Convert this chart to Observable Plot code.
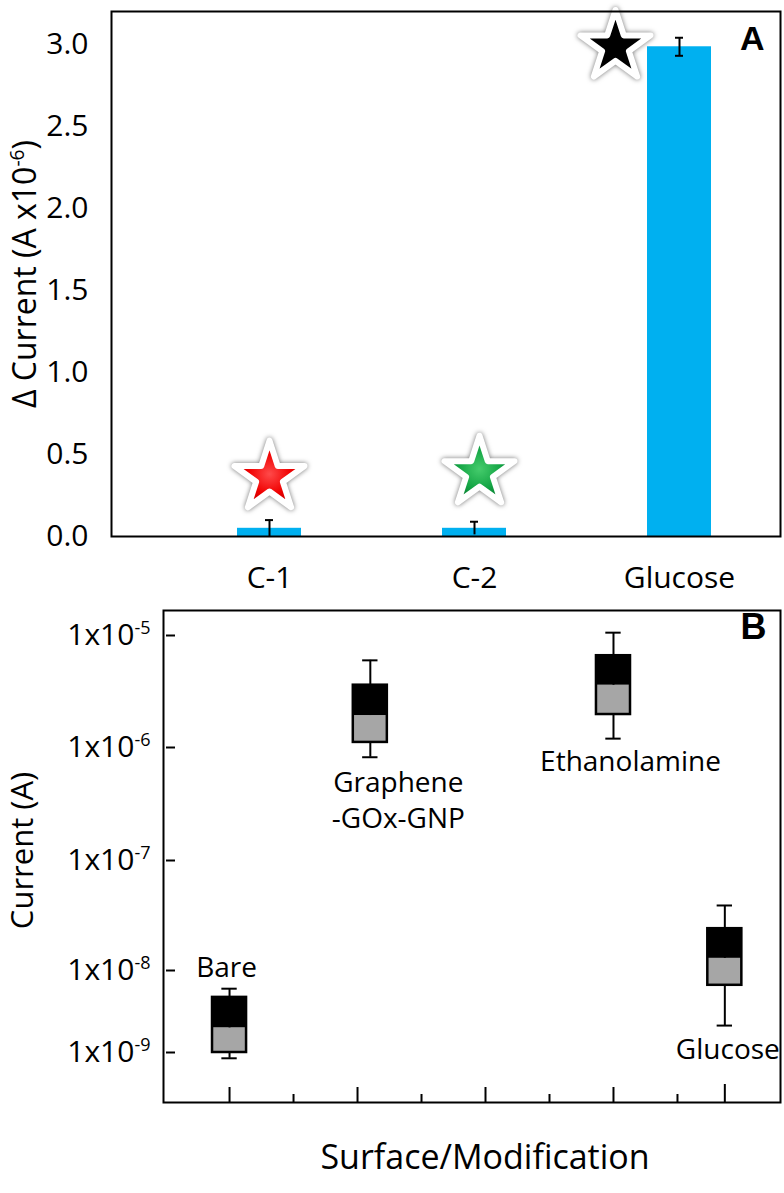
<!DOCTYPE html>
<html><head><meta charset="utf-8">
<script src="https://cdn.jsdelivr.net/npm/d3@7"></script>
<script src="https://cdn.jsdelivr.net/npm/@observablehq/plot@0.6"></script>
<style>
body{margin:0;background:#fff;}
#wrap{position:relative;width:784px;height:1193px;font-family:"Open Sans",sans-serif;}
#a,#b{position:absolute;left:0;}
#a{top:0}
#b{top:560px}
#a g[aria-label="dot"] path{filter:drop-shadow(0 0 2.5px rgba(0,0,0,0.55));}
</style></head><body><div id="wrap"><div id="a"></div><div id="b"></div></div>
<script>
// ---------- Panel A data ----------
const categoriesA = ["C-1", "C-2", "Glucose"];
const deltaCurrent = [0.05, 0.05, 2.985];
const deltaError = [0.05, 0.04, 0.055];
const starValue = [0.36, 0.39, 2.985];
const starColor = ["red", "green", "black"];
const yTicksA = [0, 0.5, 1, 1.5, 2, 2.5, 3];

// ---------- Panel B data ----------
const surfaces = ["Bare", "Graphene\n-GOx-GNP", "Ethanolamine", "Glucose"];
const surfacePos = [1, 2.1, 4, 4.87];
const whiskerHigh = [6.0e-9, 6.0e-6, 1.06e-5, 3.9e-8];
const boxHigh = [4.7e-9, 3.6e-6, 6.6e-6, 2.4e-8];
const boxMid = [2.0e-9, 1.93e-6, 3.6e-6, 1.29e-8];
const boxLow = [1.0e-9, 1.11e-6, 1.97e-6, 6.6e-9];
const whiskerLow = [8.5e-10, 8.2e-7, 1.2e-6, 2.13e-9];
const yTicksB = [1e-9, 1e-8, 1e-7, 1e-6, 1e-5];
const yTickLabelsB = ["1x10-9", "1x10-8", "1x10-7", "1x10-6", "1x10-5"];
const xMajorTicksB = [1, 2, 3, 4];
const xMinorTicksB = [1.5, 2.5, 3.5, 4.5];
const xExtraTicksB = [4.87];

const fontFam = '"Open Sans", sans-serif';

// ---------- Panel A ----------
const dataA = categoriesA.map((c, i) => ({cat: c, v: deltaCurrent[i], e: deltaError[i], s: starValue[i], color: starColor[i]}));
const starDx = {"C-1": 0, "C-2": 5, "Glucose": -64};

const plotA = Plot.plot({
  width: 784, height: 590,
  marginLeft: 111, marginRight: 4, marginTop: 11, marginBottom: 54,
  style: {fontFamily: fontFam, fontSize: "30px", color: "#000", background: "transparent", overflow: "visible"},
  x: {type: "band", domain: categoriesA, paddingInner: 0.69, paddingOuter: 0.475, align: 0.643, label: null, tickSize: 0, tickPadding: 30},
  y: {domain: [0, 3.2], ticks: yTicksA, tickFormat: d3.format(".1f"), tickSize: 0, tickPadding: 23, label: null},
  marks: [
    Plot.barY(dataA, {x: "cat", y: "v", fill: "#00b0f0"}),
    Plot.ruleX(dataA, {x: "cat", y1: d => Math.max(0, d.v - d.e), y2: d => d.v + d.e, stroke: "#000", strokeWidth: 2}),
    Plot.tickY(dataA, {x: "cat", y: d => d.v + d.e, stroke: "#000", strokeWidth: 2, insetLeft: 28, insetRight: 28}),
    Plot.tickY(dataA.filter(d => d.v - d.e > 0.02), {x: "cat", y: d => d.v - d.e, stroke: "#000", strokeWidth: 2, insetLeft: 28, insetRight: 28}),
    ...dataA.map(d => Plot.dot([d], {x: "cat", y: "s", dx: starDx[d.cat], symbol: "star", r: 22,
      fill: `url(#star-${d.color})`, stroke: "#fff", strokeWidth: 6, strokeLinejoin: "round"})),
    Plot.frame({stroke: "#000", strokeWidth: 2}),
    Plot.text(["Δ Current (A x10-6)"], {frameAnchor: "left", dx: -86, textAnchor: "middle", rotate: -90, fontSize: 32, fill: "#000"}),
    Plot.text(["A"], {frameAnchor: "top-right", dx: -16, dy: 14, lineAnchor: "top", textAnchor: "end", fontSize: 34, fontWeight: "bold", fontFamily: '"Liberation Sans", Arial, sans-serif', fill: "#000"})
  ]
});
document.getElementById("a").appendChild(plotA);

// gradients for stars
const defs = d3.select(plotA).insert("defs", ":first-child");
const grads = {red: ["#ff4a4a", "#f00000", "#b00000"], green: ["#45cc6c", "#13a444", "#066a28"], black: ["#000", "#000", "#000"]};
for (const [name, c] of Object.entries(grads)) {
  const g = defs.append("radialGradient").attr("id", `star-${name}`).attr("cx", "50%").attr("cy", "50%").attr("r", "55%");
  g.append("stop").attr("offset", "0%").attr("stop-color", c[0]);
  g.append("stop").attr("offset", "55%").attr("stop-color", c[1]);
  g.append("stop").attr("offset", "100%").attr("stop-color", c[2]);
}

// ---------- Panel B ----------
const dataB = surfaces.map((s, i) => ({s, x: surfacePos[i], wh: whiskerHigh[i], q3: boxHigh[i], med: boxMid[i], q1: boxLow[i], wl: whiskerLow[i]}));
const plotHB = 492, plotWB = 617;
const boxHalf = 0.133, capHalf = 0.06;
const labelB = (name, anchor, dx, dy) => Plot.text(dataB.filter(d => d.s === name), {
  x: "x", y: anchor === "above" ? "wh" : "wl", text: "s", dx, dy,
  lineAnchor: anchor === "above" ? "bottom" : "top", lineHeight: 1.29, fontSize: 28, fill: "#000"});

const plotB = Plot.plot({
  width: 784, height: 633,
  marginLeft: 163, marginRight: 4, marginTop: 50, marginBottom: 91,
  style: {fontFamily: fontFam, fontSize: "30px", color: "#000", background: "transparent", overflow: "visible"},
  x: {domain: [0.484, 5.305], axis: null},
  y: {type: "log", domain: yTicksB, range: [492, 410, 300, 187, 75], axis: null},
  marks: [
    Plot.ruleX(dataB, {x: "x", y1: "wl", y2: "wh", stroke: "#000", strokeWidth: 2}),
    Plot.ruleY(dataB, {y: "wh", x1: d => d.x - capHalf, x2: d => d.x + capHalf, stroke: "#000", strokeWidth: 2}),
    Plot.ruleY(dataB, {y: "wl", x1: d => d.x - capHalf, x2: d => d.x + capHalf, stroke: "#000", strokeWidth: 2}),
    Plot.rect(dataB, {x1: d => d.x - boxHalf, x2: d => d.x + boxHalf, y1: "q1", y2: "med", fill: "#a6a6a6"}),
    Plot.rect(dataB, {x1: d => d.x - boxHalf, x2: d => d.x + boxHalf, y1: "med", y2: "q3", fill: "#000"}),
    Plot.rect(dataB, {x1: d => d.x - boxHalf, x2: d => d.x + boxHalf, y1: "q1", y2: "q3", fill: "none", stroke: "#000", strokeWidth: 2.5}),
    Plot.ruleX(xMajorTicksB, {x: d => d, insetTop: plotHB - 15, stroke: "#000", strokeWidth: 2}),
    Plot.ruleX(xMinorTicksB, {x: d => d, insetTop: plotHB - 8, stroke: "#000", strokeWidth: 2}),
    Plot.ruleX(xExtraTicksB, {x: d => d, insetTop: plotHB - 18, stroke: "#000", strokeWidth: 2}),
    Plot.ruleY(yTicksB, {y: d => d, insetLeft: 3, insetRight: plotWB - 12, stroke: "#000", strokeWidth: 2}),
    Plot.text(yTicksB, {y: d => d, text: (d, i) => yTickLabelsB[i], frameAnchor: "left", dx: -13, textAnchor: "end", fontSize: 30, fill: "#000"}),
    Plot.frame({stroke: "#000", strokeWidth: 2}),
    labelB("Bare", "above", -3, -12),
    labelB("Graphene\n-GOx-GNP", "below", 28, 9),
    labelB("Ethanolamine", "below", 17, 7),
    labelB("Glucose", "below", 3, 8),
    Plot.text(["Current (A)"], {frameAnchor: "left", dx: -140, dy: -6, textAnchor: "middle", rotate: -90, fontSize: 31, fill: "#000"}),
    Plot.text(["Surface/Modification"], {frameAnchor: "bottom", dx: 13, dy: 66, textAnchor: "middle", fontSize: 34, fill: "#000"}),
    Plot.text(["B"], {frameAnchor: "top-right", dx: -14, dy: 3, lineAnchor: "top", textAnchor: "end", fontSize: 36, fontWeight: "bold", fontFamily: '"Liberation Sans", Arial, sans-serif', fill: "#000"})
  ]
});
document.getElementById("b").appendChild(plotB);

// superscripts for "x10-n"
for (const svg of [plotA, plotB]) {
  d3.select(svg).selectAll("text").each(function() {
    if (this.querySelector("tspan")) return;
    const t = this.textContent;
    const m = t.match(/^(.*x10)(-\d+)(.*)$/);
    if (!m) return;
    const fs = parseFloat(getComputedStyle(this).fontSize) || 30;
    const sel = d3.select(this);
    sel.text(null);
    sel.append("tspan").text(m[1]);
    sel.append("tspan").attr("font-size", fs * 0.6).attr("dy", -fs * 0.38).text(m[2]);
    if (m[3]) sel.append("tspan").attr("dy", fs * 0.38).text(m[3]);
  });
}
</script></body></html>
